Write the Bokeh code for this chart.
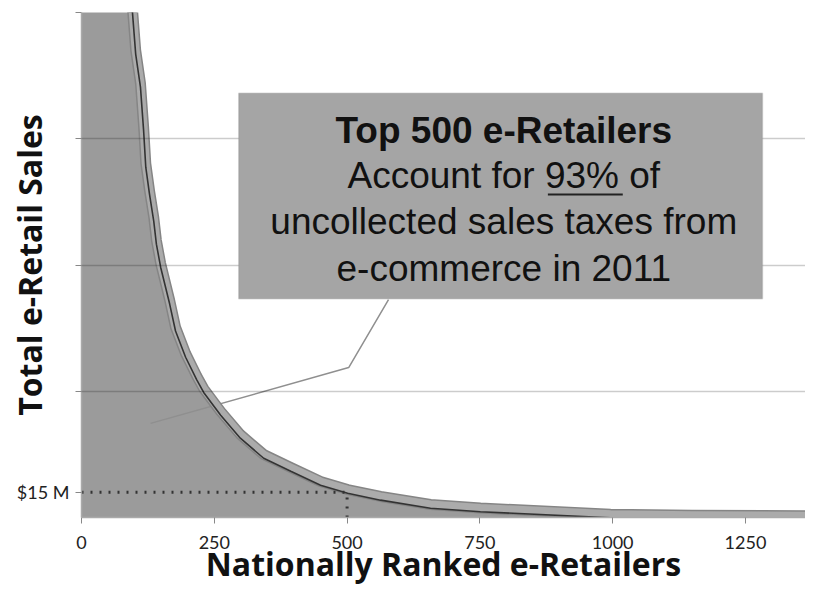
from bokeh.plotting import figure
from bokeh.models import (Range1d, FixedTicker, BoxAnnotation, Label, ColumnDataSource)
from bokeh.transform import dodge
from bokeh.embed import file_html
from bokeh.resources import INLINE

# ---- data ----
rank = [1, 25, 50, 75, 96, 102, 111, 117, 121, 128, 136, 141, 149, 166, 177, 196,
        217, 230, 262, 299, 343, 394, 450, 501, 563, 657, 751, 996, 1150, 1378]
sales_m = [2500, 1200, 700, 420, 302, 277.5, 257.9, 231.7, 210.3, 194.3, 178.3, 164.6,
           150.9, 129.0, 113.0, 97.4, 84.0, 76.5, 63.0, 49.3, 37.4, 29.7, 21.4, 16.6,
           12.5, 7.7, 5.6, 2.0, 1.4, 1.0]
threshold_rank = 500
threshold_sales = 15
x_ticks = [0, 250, 500, 750, 1000, 1250]
y_ticks = [15, 75, 150, 225, 300]
y_tick_labels = {15: "$15 M", 75: "", 150: "", 225: "", 300: ""}
grid_values = [75, 150, 225, 300]
callout_x = [578, 503, 130]
callout_y = [129.5, 89.1, 55.9]

src = ColumnDataSource(dict(rank=rank, sales=sales_m))

p = figure(width=805, height=587, output_backend="svg", toolbar_location=None,
           x_range=Range1d(0, 1363), y_range=Range1d(0, 300),
           min_border_left=81, min_border_right=0, min_border_top=12, min_border_bottom=70)
p.outline_line_color = None
p.background_fill_color = "white"
p.border_fill_color = "white"

# area under curve
p.varea(x="rank", y1=0, y2="sales", source=src, fill_color="#9b9b9b")

# callout connector
p.line(callout_x, callout_y, line_color="#8f8f8f", line_width=1.5)

# marker band + dark line
p.line(x="rank", y="sales", source=src, line_color="#858585", line_width=11, line_join="round")
p.line(x="rank", y="sales", source=src, line_color="#ababab", line_width=8, line_join="round")
p.line(x="rank", y=dodge("sales", -2.2), source=src, line_color="#333333", line_width=1.6)

# $15M dotted guides
p.line([0, threshold_rank], [threshold_sales, threshold_sales], line_color="#333333",
       line_width=3, line_dash="2 7")
p.line([threshold_rank, threshold_rank], [0, threshold_sales], line_color="#333333",
       line_width=3, line_dash="2 7")

# grid
p.xgrid.grid_line_color = None
p.ygrid.ticker = FixedTicker(ticks=grid_values)
p.ygrid.grid_line_color = "black"
p.ygrid.grid_line_alpha = 0.2
p.ygrid.grid_line_width = 1.5
p.ygrid.level = "guide"

# axes
p.xaxis.ticker = FixedTicker(ticks=x_ticks)
p.yaxis.ticker = FixedTicker(ticks=y_ticks)
p.yaxis.major_label_overrides = y_tick_labels
for ax in (p.xaxis, p.yaxis):
    ax.axis_line_color = "#aaaaaa"
    ax.axis_line_width = 1.5
    ax.major_tick_line_color = "#888888"
    ax.major_tick_in = 0
    ax.major_tick_out = 6
    ax.minor_tick_line_color = None
    ax.major_label_text_font = "Lato"
    ax.major_label_text_font_size = "18px"
    ax.major_label_text_color = "#222222"
    ax.axis_label_text_font = "Open Sans"
    ax.axis_label_text_font_size = "32px"
    ax.axis_label_text_font_style = "bold"
    ax.axis_label_text_color = "#111111"
    ax.axis_label_text_line_height = 0.9
p.xaxis.axis_label = "Nationally Ranked e-Retailers"
p.yaxis.axis_label = "Total e-Retail Sales"
p.xaxis.major_label_standoff = 12
p.xaxis.axis_label_standoff = -10
p.yaxis.major_label_standoff = 6
p.yaxis.axis_label_standoff = -37

# annotation box
box = BoxAnnotation(left=296, right=1282, bottom=130, top=252,
                    fill_color="#a5a5a5", fill_alpha=1.0,
                    line_color="#8a8a8a", line_width=1.5)
p.add_layout(box)
lines = [("Top 500 e-Retailers", "bold", 229.9),
         ("Account for 93% of", "normal", 203.2),
         ("uncollected sales taxes from", "normal", 175.8),
         ("e-commerce in 2011", "normal", 147.9)]
for txt, style, yy in lines:
    p.add_layout(Label(x=795, y=yy, text=txt, text_align="center", text_baseline="alphabetic",
                       text_font="Liberation Sans", text_font_size="37px",
                       text_font_style=style, text_color="#111111"))
p.segment(x0=[878], y0=[191.9], x1=[1019], y1=[191.9], line_color="#222222",
          line_width=2, level="overlay")

open("out.html", "w").write(file_html(p, INLINE))
